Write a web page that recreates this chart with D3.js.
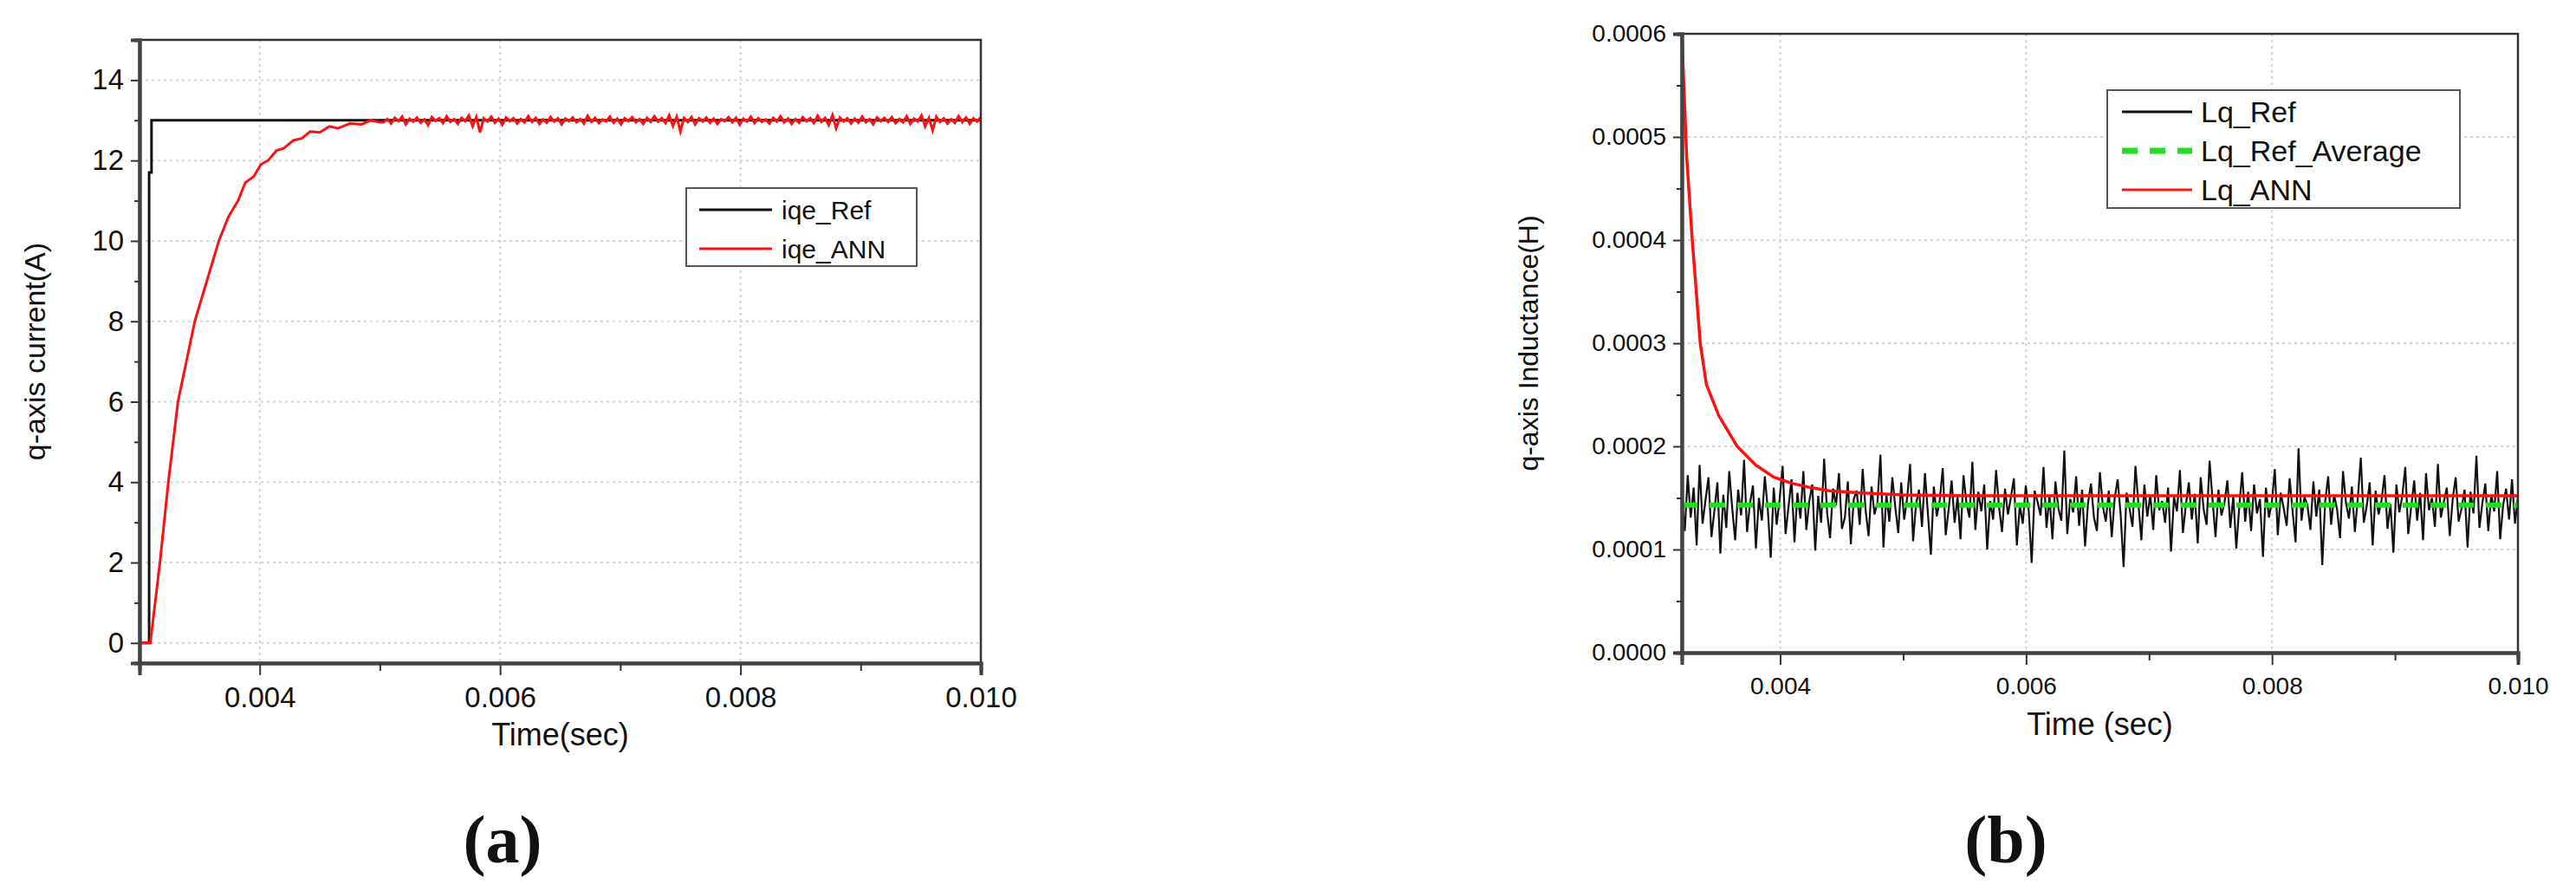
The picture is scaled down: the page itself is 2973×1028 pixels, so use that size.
<!DOCTYPE html>
<html>
<head>
<meta charset="utf-8">
<script src="https://cdn.jsdelivr.net/npm/d3@7"></script>
<style>
body { margin: 0; background: #fff; }
text { fill: #111; }
</style>
</head>
<body>
<div id="result"></div>
<script>
// ---- data (a) ----
const iqeRefT = [0.0030, 0.00308, 0.00308, 0.00310, 0.00310, 0.0100];
const iqeRefV = [0, 0, 11.7, 11.7, 13, 13];
// settling part of iqe_ANN
const iqeAnnRiseT = [0.0030, 0.00309, 0.00317, 0.00324, 0.00332, 0.00346, 0.00366, 0.00374, 0.00382, 0.00388, 0.00395, 0.00401, 0.00407, 0.00414, 0.00420, 0.00428, 0.00435, 0.00442, 0.00450, 0.00458, 0.00465, 0.00475, 0.00485, 0.00492, 0.00500];
const iqeAnnRiseV = [0, 0, 2, 4, 6, 8, 10, 10.6, 11, 11.45, 11.6, 11.9, 12, 12.25, 12.3, 12.5, 12.55, 12.72, 12.7, 12.85, 12.8, 12.92, 12.9, 13.0, 12.95];
// ripple around 13 A after settling (hundredths of A)
const iqeAnnRipple = [-5,3,-8,6,-2,9,-10,4,-3,7,-6,2,-12,8,-1,5,-7,10,-4,3,-9,6,-2,12,-15,8,-30,5,-3,9,-6,4,-11,7,-2,5,-8,3,-5,10,-4,6,-9,2,-6,8,-3,5,-10,4,-2,7,-5,3,-8,11,-4,6,-7,2,-3,9,-6,4,-10,5,-2,8,-5,3,-9,6,-4,10,-3,5,-7,12,-14,9,-28,6,-4,8,-10,5,-3,7,-6,4,-9,3,-2,8,-5,6,-11,4,-3,9,-7,5,-4,2,-8,6,-3,10,-5,4,-9,3,-6,8,-2,5,-7,11,-4,6,-12,13,-20,7,-3,5,-8,4,-6,9,-5,3,-10,7,-2,6,-4,8,-7,3,-5,10,-9,4,-3,12,-15,6,-25,9,-4,5,-8,3,-6,10,-4,7,-9,5,-3,8];
const xTicksA = [0.004, 0.006, 0.008, 0.010];
const yTicksA = [0, 2, 4, 6, 8, 10, 12, 14];

// ---- data (b) ----
const lqAnnT = [0.0032, 0.00324, 0.003285, 0.00335, 0.0034, 0.0035, 0.00365, 0.0038, 0.00395, 0.0041, 0.00425, 0.0044, 0.00463, 0.0050, 0.0055, 0.0100];
const lqAnnV = [0.0006, 0.00048, 0.0004, 0.0003, 0.00026, 0.00023, 0.0002, 0.000182, 0.00017, 0.000164, 0.00016, 0.000157, 0.000155, 0.000153, 0.000152, 0.000152];
const lqRefAverage = 0.000143;
// Lq_Ref measured samples, in micro-henry
const lqRefSamples = [150,118,172,131,160,104,182,125,148,170,112,138,165,96,153,121,176,140,109,158,133,187,117,145,162,101,150,128,171,139,92,160,124,149,181,115,142,168,107,155,130,176,119,147,163,99,152,126,188,136,111,159,143,174,120,131,166,105,149,157,124,178,138,113,161,134,146,192,102,153,127,170,141,116,165,129,150,183,108,144,158,122,174,135,95,161,132,148,179,114,139,167,126,151,110,172,145,131,185,119,156,137,163,100,147,129,177,141,117,159,134,151,169,104,143,125,162,138,87,157,146,133,180,121,152,110,166,140,128,196,115,149,136,171,123,158,103,145,164,131,118,175,142,127,157,112,150,168,134,83,155,140,122,181,144,109,163,132,153,119,172,138,147,126,160,98,151,137,177,116,143,165,129,154,106,170,139,124,186,148,112,158,133,145,167,121,152,101,141,175,127,156,118,163,135,149,93,160,131,146,178,114,155,140,123,169,137,107,198,128,151,143,119,166,132,158,85,147,171,124,153,139,111,176,145,130,161,117,150,189,126,142,165,104,157,134,148,172,120,144,97,163,136,152,180,115,141,167,128,155,109,174,138,150,122,183,131,146,160,113,149,170,127,140,158,102,156,135,191,121,145,164,118,153,137,176,110,143,159,129,168,125,151];
const xTicksB = [0.004, 0.006, 0.008, 0.010];
const yTicksB = [0, 0.0001, 0.0002, 0.0003, 0.0004, 0.0005, 0.0006];

const NARROW = "'Liberation Sans Narrow', 'Arial Narrow', 'Liberation Sans', sans-serif";
const SANS = "'Liberation Sans', Arial, sans-serif";

let svg = d3.select("#result").append("svg").attr("width", 2973).attr("height", 1028);

function drawPanel(p) {
    const x = d3.scaleLinear().domain(p.xDomain).range([p.left, p.right]);
    const y = d3.scaleLinear().domain(p.yDomain).range([p.bottom, p.top]);
    const g = svg.append("g");

    // grid (dotted)
    g.selectAll(".gx").data(p.xTicks.filter(d => d < p.xDomain[1] - 1e-9)).enter().append("line")
        .attr("x1", d => x(d)).attr("x2", d => x(d)).attr("y1", p.top).attr("y2", p.bottom)
        .attr("stroke", "#d4d4d4").attr("stroke-width", 2).attr("stroke-dasharray", "3,4");
    g.selectAll(".gy").data(p.yTicks.filter(d => d > p.yDomain[0] && d < p.yDomain[1])).enter().append("line")
        .attr("x1", p.left).attr("x2", p.right).attr("y1", d => y(d)).attr("y2", d => y(d))
        .attr("stroke", "#d4d4d4").attr("stroke-width", 2).attr("stroke-dasharray", "3,4");

    // series
    p.series.forEach(s => {
        const line = d3.line().x(d => x(d[0])).y(d => y(d[1]));
        g.append("path").datum(s.data).attr("d", line).attr("fill", "none")
            .attr("stroke", s.color).attr("stroke-width", s.width)
            .attr("stroke-dasharray", s.dash || null);
    });

    // frame
    g.append("rect").attr("x", p.left).attr("y", p.top)
        .attr("width", p.right - p.left).attr("height", p.bottom - p.top)
        .attr("fill", "none").attr("stroke", "#333").attr("stroke-width", 2.5);

    // axes
    const xAxis = d3.axisBottom(x).tickValues(p.xTicks).tickFormat(p.xFmt).tickSize(14).tickPadding(14);
    const xg = g.append("g").attr("transform", `translate(0,${p.bottom})`).call(xAxis);
    const xMinor = d3.axisBottom(x).tickValues(p.xMinor).tickFormat("").tickSize(9);
    g.append("g").attr("transform", `translate(0,${p.bottom})`).call(xMinor);
    const yAxis = d3.axisLeft(y).tickValues(p.yTicks).tickFormat(p.yFmt).tickSize(10).tickPadding(8);
    const yg = g.append("g").attr("transform", `translate(${p.left},0)`).call(yAxis);
    const yMinor = d3.axisLeft(y).tickValues(p.yMinor).tickFormat("").tickSize(6);
    g.append("g").attr("transform", `translate(${p.left},0)`).call(yMinor);
    g.selectAll(".domain").attr("stroke", "#444").attr("stroke-width", 4);
    g.selectAll(".tick line").attr("stroke", "#333").attr("stroke-width", 2);
    xg.selectAll("text").attr("font-family", NARROW).attr("font-size", p.tickSize);
    yg.selectAll("text").attr("font-family", NARROW).attr("font-size", p.tickSize);

    // titles
    g.append("text").attr("x", (p.left + p.right) / 2).attr("y", p.bottom + 95)
        .attr("text-anchor", "middle").attr("font-family", NARROW).attr("font-size", 36).text(p.xTitle);
    g.append("text").attr("transform", `translate(${p.yTitleX},${(p.top + p.bottom) / 2}) rotate(-90)`)
        .attr("text-anchor", "middle").attr("font-family", SANS).attr("font-size", p.yTitleSize).text(p.yTitle);

    // legend
    const L = p.legend;
    g.append("rect").attr("x", L.x).attr("y", L.y).attr("width", L.w).attr("height", L.h)
        .attr("fill", "#fff").attr("stroke", "#555").attr("stroke-width", 2);
    p.series.forEach((s, i) => {
        const ry = L.y + L.first + i * L.step;
        g.append("line").attr("x1", L.x + L.lx1).attr("x2", L.x + L.lx2).attr("y1", ry).attr("y2", ry)
            .attr("stroke", s.color).attr("stroke-width", s.legendWidth || 3).attr("stroke-dasharray", s.dash || null);
        g.append("text").attr("x", L.x + L.tx).attr("y", ry + L.fs * 0.36)
            .attr("font-family", L.font).attr("font-size", L.fs).text(s.name);
    });

    // panel label
    svg.append("text").attr("x", p.labelX).attr("y", 995).attr("text-anchor", "middle")
        .attr("font-family", "'Liberation Serif', 'DejaVu Serif', serif").attr("font-size", 78)
        .attr("font-weight", "bold").text(p.label);
}

// build series for (a)
const annA = iqeAnnRiseT.map((t, i) => [t, iqeAnnRiseV[i]]);
iqeAnnRipple.forEach((r, i) => {
    const t = 0.0050 + (i + 1) * (0.0050 / iqeAnnRipple.length);
    annA.push([t, 13 + r / 100]);
});

drawPanel({
    xDomain: [0.003, 0.010], yDomain: [-0.5, 15],
    left: 161, right: 1132, top: 46, bottom: 765,
    xTicks: xTicksA, xMinor: [0.005, 0.007, 0.009], xFmt: d3.format(".3f"),
    yTicks: yTicksA, yMinor: [1, 3, 5, 7, 9, 11, 13], yFmt: d3.format("d"),
    tickSize: 33, xTitle: "Time(sec)", yTitle: "q-axis current(A)", yTitleX: 52, yTitleSize: 34,
    series: [
        { name: "iqe_Ref", color: "#111", width: 3, data: iqeRefT.map((t, i) => [t, iqeRefV[i]]) },
        { name: "iqe_ANN", color: "#ff1010", width: 3, data: annA }
    ],
    legend: { x: 792, y: 217, w: 266, h: 90, first: 25, step: 45, lx1: 15, lx2: 99, tx: 110, fs: 30, font: SANS },
    label: "(a)", labelX: 580
});

// build series for (b)
const refB = lqRefSamples.map((v, i) => [0.0032 + i * (0.0068 / (lqRefSamples.length - 1)), v * 1e-6]);

drawPanel({
    xDomain: [0.0032, 0.010], yDomain: [0, 0.0006],
    left: 1941, right: 2906, top: 39, bottom: 753,
    xTicks: xTicksB, xMinor: [0.005, 0.007, 0.009], xFmt: d3.format(".3f"),
    yTicks: yTicksB, yMinor: [0.00005, 0.00015, 0.00025, 0.00035, 0.00045, 0.00055], yFmt: d3.format(".4f"),
    tickSize: 28, xTitle: "Time (sec)", yTitle: "q-axis Inductance(H)", yTitleX: 1775, yTitleSize: 32,
    series: [
        { name: "Lq_Ref", color: "#111", width: 2.2, data: refB },
        { name: "Lq_Ref_Average", color: "#22dd22", width: 6, dash: "18,14", legendWidth: 7, data: [[0.0032, lqRefAverage], [0.010, lqRefAverage]] },
        { name: "Lq_ANN", color: "#ff1010", width: 3.5, data: lqAnnT.map((t, i) => [t, lqAnnV[i]]) }
    ],
    legend: { x: 2432, y: 104, w: 407, h: 136, first: 25, step: 45, lx1: 17, lx2: 98, tx: 108, fs: 34, font: NARROW },
    label: "(b)", labelX: 2315
});
</script>
</body>
</html>
